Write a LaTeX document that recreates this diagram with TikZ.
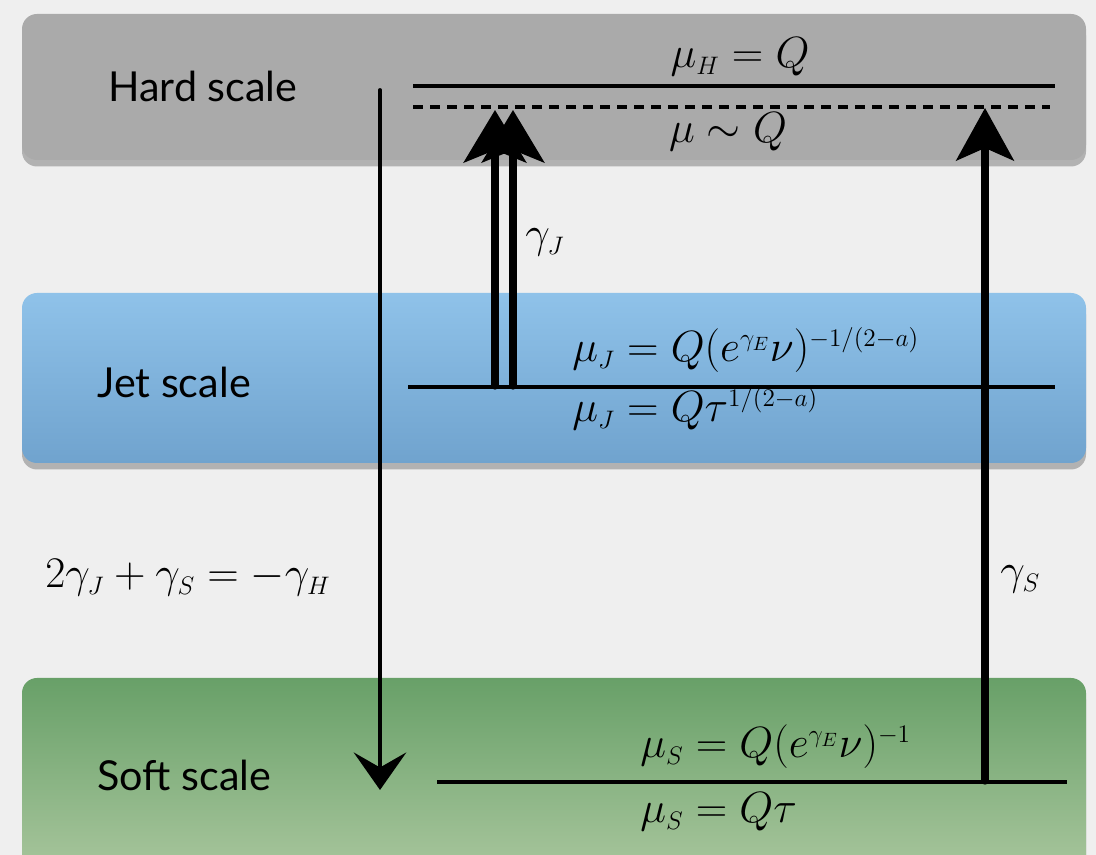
\documentclass[tikz,border=0pt]{standalone}
\usepackage{fontspec}
\newfontfamily\echellefont{Lato}
\usetikzlibrary{arrows.meta,shadows}
\DeclareMathSizes{23}{23}{14.5}{11}

\definecolor{fond}{RGB}{239,239,239}
\definecolor{grisdur}{RGB}{170,170,170}
\definecolor{bleuhaut}{RGB}{143,194,233}
\definecolor{bleubas}{RGB}{112,163,206}
\definecolor{verthaut}{RGB}{104,160,104}
\definecolor{vertbas}{RGB}{172,200,160}

\begin{document}
\begin{tikzpicture}[
    boite/.style={rounded corners=0.3cm, drop shadow={opacity=0.55, shadow xshift=0pt, shadow yshift=-0.13cm}},
    niveau/.style={line width=2.8pt},
    titre/.style={anchor=west, inner sep=0pt, font=\echellefont\fontsize{23.5}{27}\selectfont},
    eq/.style={anchor=base west, inner sep=0pt, font=\fontsize{23}{27}\selectfont},
    fleche/.style={line width=#1, line cap=round}]

  % Fond et cadre de la page.
  \useasboundingbox (0,0) rectangle (21.92,17.1);
  \clip (0,0) rectangle (21.92,17.1);
  \fill[fond] (0,0) rectangle (21.92,17.1);

  % Les trois bandes d'échelle.
  \fill[boite, grisdur] (0.44,13.9) rectangle (21.72,16.82);
  \shade[boite, top color=bleuhaut, bottom color=bleubas] (0.44,7.84) rectangle (21.72,11.24);
  \shade[boite, top color=verthaut, bottom color=vertbas] (0.44,-0.6) rectangle (21.72,3.54);

  % Noms des échelles.
  \node[titre] (hard) at (2.16,15.38) {Hard scale};
  \node[titre] (jet)  at (1.94,9.46) {Jet scale};
  \node[titre] (soft) at (1.94,1.6) {Soft scale};

  % Niveaux de chaque échelle.
  \coordinate (hA) at (8.26,15.38);  \coordinate (hB) at (21.1,15.38);
  \coordinate (dA) at (8.26,14.96);  \coordinate (dB) at (21.0,14.96);
  \coordinate (jA) at (8.16,9.36);   \coordinate (jB) at (21.1,9.36);
  \coordinate (sA) at (8.74,1.46);   \coordinate (sB) at (21.34,1.46);
  \draw[niveau] (hA) -- (hB);
  \draw[niveau, dash pattern=on 0.2cm off 0.14cm] (dA) -- (dB);
  \draw[niveau] (jA) -- (jB);
  \draw[niveau] (sA) -- (sB);

  % Valeurs des échelles.
  \node[eq, anchor=base] (muH) at (14.8,15.74) {$\mu_H = Q$};
  \node[eq, anchor=base] (mu)  at (14.56,14.24) {$\mu \sim Q$};
  \node[eq] (muJa) at (11.44,9.86) {$\mu_J = Q(e^{\gamma_E}\nu)^{-1/(2-a)}$};
  \node[eq] (muJb) at (11.44,8.66) {$\mu_J = Q\tau^{1/(2-a)}$};
  \node[eq] (muSa) at (12.8,1.94) {$\mu_S = Q(e^{\gamma_E}\nu)^{-1}$};
  \node[eq] (muSb) at (12.8,0.64) {$\mu_S = Q\tau$};

  % Évolution : dure vers douce.
  \coordinate (bas0) at (7.6,15.3);
  \coordinate (bas1) at (7.6,1.3);
  \draw[fleche=2.2pt, -{Stealth[length=0.75cm, width=1.05cm, inset=0.3cm]}] (bas0) -- (bas1);

  % Évolution des jets (deux flèches) et de la partie douce.
  \coordinate (j1) at (9.9,9.38);   \coordinate (j1h) at (9.9,14.9);
  \coordinate (j2) at (10.26,9.38); \coordinate (j2h) at (10.26,14.9);
  \coordinate (s1) at (19.7,1.48);  \coordinate (s1h) at (19.7,14.94);
  \draw[fleche=4.2pt, -{Stealth[length=1.05cm, width=1.25cm, inset=0.25cm]}] (j1) -- (j1h);
  \draw[fleche=4.2pt, -{Stealth[length=1.05cm, width=1.25cm, inset=0.25cm]}] (j2) -- (j2h);
  \draw[fleche=4.2pt, -{Stealth[length=1.05cm, width=1.15cm, inset=0.25cm]}] (s1) -- (s1h);

  % Dimensions anormales.
  \node[eq] (gJ) at (10.5,12.14) {$\gamma_J$};
  \node[eq] (gS) at (20.0,5.4) {$\gamma_S$};
  \node[eq] (somme) at (0.9,5.34) {$2\gamma_J + \gamma_S = -\gamma_H$};

\end{tikzpicture}
\end{document}
